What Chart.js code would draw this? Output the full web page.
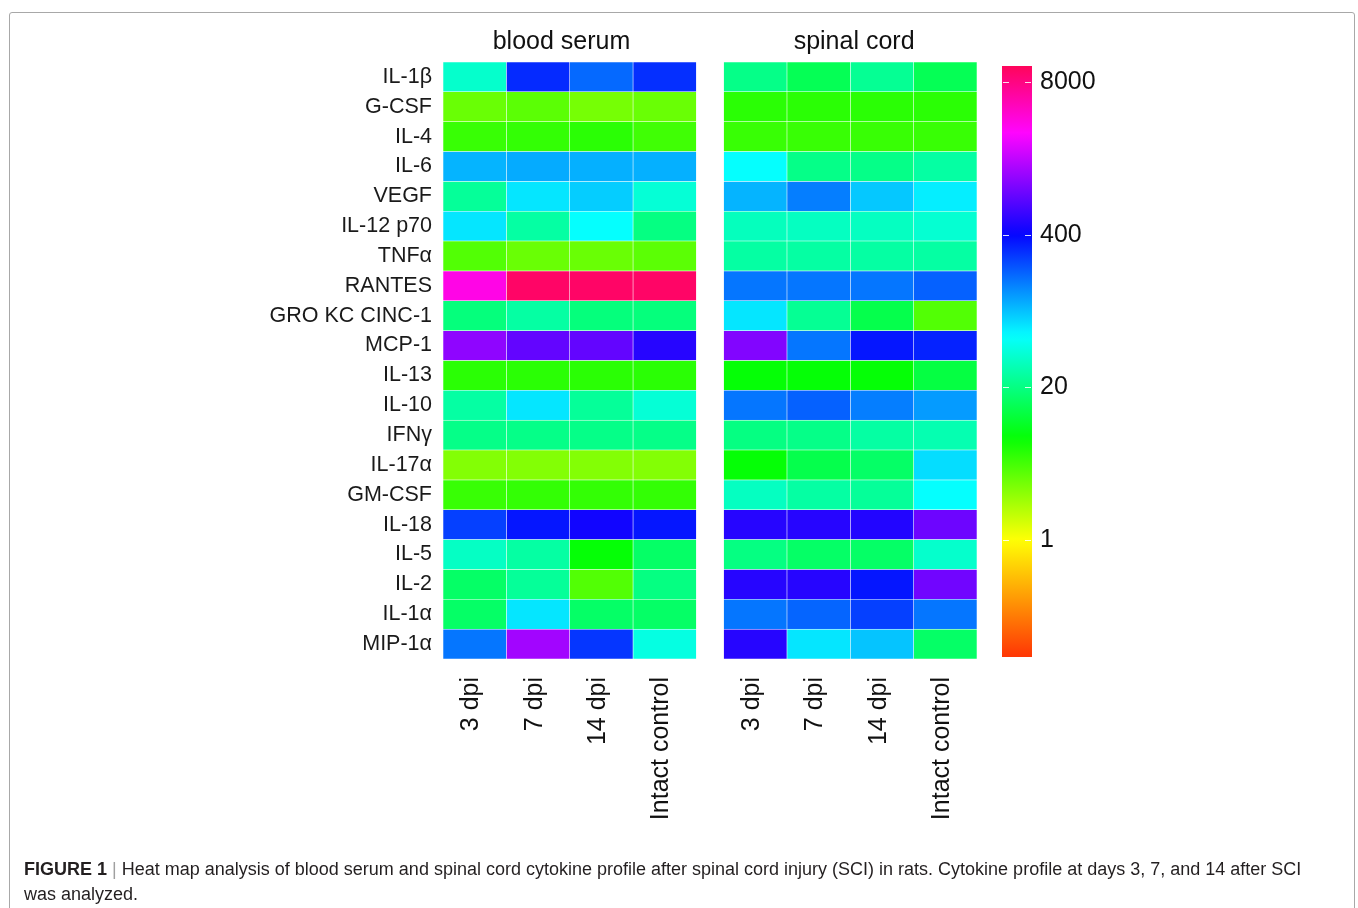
<!DOCTYPE html>
<html>
<head>
<meta charset="utf-8">
<title>Cytokine heat map</title>
<script src="https://cdn.jsdelivr.net/npm/chart.js@4.4.1/dist/chart.umd.min.js"></script>
<style>
  html, body { margin: 0; padding: 0; background: #fff; overflow: hidden; }
  #page { position: relative; width: 1358px; height: 908px; overflow: hidden; font-family: "Liberation Sans", Arial, sans-serif; }
  #frame { position: absolute; left: 9px; top: 12px; width: 1344px; height: 960px; border: 1.5px solid #a8a8a8; border-radius: 3px; }
  #heatmap { position: absolute; left: 0; top: 0; }
  #colorbar { position: absolute; left: 1002px; top: 0; }
  #caption { position: absolute; left: 24px; top: 857px; font-size: 18px; line-height: 25px; color: #231f20; white-space: nowrap; }
  #caption .sep { color: #a0a0a0; }
</style>
</head>
<body>
<div id="page">
  <div id="frame"></div>
  <canvas id="heatmap" width="1358" height="908"></canvas>
  <canvas id="colorbar" width="200" height="700"></canvas>
  <div id="caption"><b>FIGURE 1</b> <span class="sep">|</span> Heat map analysis of blood serum and spinal cord cytokine profile after spinal cord injury (SCI) in rats. Cytokine profile at days 3, 7, and 14 after SCI<br>was analyzed.</div>
</div>
<script>
const cytokines = ['IL-1β', 'G-CSF', 'IL-4', 'IL-6', 'VEGF', 'IL-12 p70', 'TNFα', 'RANTES', 'GRO KC CINC-1', 'MCP-1',
  'IL-13', 'IL-10', 'IFNγ', 'IL-17α', 'GM-CSF', 'IL-18', 'IL-5', 'IL-2', 'IL-1α', 'MIP-1α'];
const columnLabels = ['3 dpi', '7 dpi', '14 dpi', 'Intact control'];
const panelTitles = ['blood serum', 'spinal cord'];
const legendTicks = [1, 20, 400, 8000];
const legendMin = 0.1;
const legendMax = 11000;

// blood serum, one array per column (same order as cytokines)
const serum3dpi   = [36, 3.3, 4.9, 99, 24, 66, 4.0, 3600, 19, 1200, 5.5, 26, 21, 2.7, 4.9, 250, 34, 16, 16, 163];
const serum7dpi   = [297, 3.7, 5.1, 106, 66, 26, 3.3, 10000, 26, 850, 5.5, 66, 21, 2.7, 5.1, 350, 26, 24, 66, 1400];
const serum14dpi  = [180, 3.0, 5.5, 102, 81, 54, 3.3, 10000, 19, 850, 5.5, 24, 21, 2.7, 5.1, 440, 7.4, 4.0, 16, 270];
const serumIntact = [287, 3.3, 4.6, 102, 39, 20, 3.7, 10000, 19, 520, 5.5, 39, 21, 2.7, 5.1, 350, 16, 20, 16, 43];

// spinal cord
const cord3dpi    = [21, 5.5, 4.9, 54, 99, 32, 26, 163, 66, 1090, 7.4, 163, 20, 7.4, 33, 520, 20, 520, 163, 520];
const cord7dpi    = [14, 5.5, 4.9, 21, 152, 33, 26, 163, 23, 163, 7.4, 192, 21, 13, 26, 520, 16, 520, 186, 66];
const cord14dpi   = [23, 5.5, 4.9, 21, 84, 33, 26, 163, 13, 350, 7.4, 152, 26, 16, 24, 505, 16, 350, 250, 87];
const cordIntact  = [14, 5.5, 4.9, 26, 62, 38, 26, 192, 4.0, 317, 12, 121, 29, 71, 54, 920, 36, 950, 163, 16];

const FONT = '"Liberation Sans", Arial, sans-serif';
Chart.defaults.font.family = FONT;
Chart.defaults.color = '#111';

// rainbow palette on a log scale (yellow at 1, green-ish at 20, blue at 400, pink at 8000)
function valueColor(v) {
  const t = Math.log(v) / Math.log(20);
  let hue = t >= 0 ? 60 + 90 * t : 60 + 63 * t;
  hue = Math.max(12, Math.min(340, hue));
  return 'hsl(' + hue.toFixed(1) + ', 100%, 51%)';
}

const GAP = 0.43; // space between the two panels, in column widths
const panels = [
  [serum3dpi, serum7dpi, serum14dpi, serumIntact],
  [cord3dpi, cord7dpi, cord14dpi, cordIntact]
];

const datasets = [];
const colCenters = [];
panels.forEach((cols, p) => {
  cols.forEach((vals, j) => {
    const x0 = p * (4 + GAP) + j;
    colCenters.push(x0 + 0.45);
    datasets.push({
      label: panelTitles[p] + ' ' + columnLabels[j],
      data: vals.map(() => [x0, x0 + 1]),
      backgroundColor: vals.map(valueColor),
      borderColor: 'rgba(255,255,255,0.4)',
      borderWidth: 0.6,
      borderSkipped: false,
      grouped: false,
      barPercentage: 1,
      categoryPercentage: 1
    });
  });
});

new Chart(document.getElementById('heatmap'), {
  type: 'bar',
  data: { labels: cytokines, datasets },
  options: {
    indexAxis: 'y',
    responsive: false,
    animation: false,
    devicePixelRatio: 1,
    layout: { padding: { left: 0, top: 0, right: 381, bottom: 0 } },
    plugins: { legend: { display: false }, tooltip: { enabled: false } },
    scales: {
      y: {
        type: 'category',
        grid: { display: false, drawTicks: false },
        border: { display: false },
        ticks: { padding: 11, font: { size: 21.5 }, color: '#1a1a1a' },
        afterFit: s => { s.width = 443; }
      },
      x: {
        type: 'linear',
        position: 'bottom',
        min: 0,
        max: 8 + GAP,
        grid: { display: false, drawTicks: false },
        border: { display: false },
        afterBuildTicks: s => { s.ticks = colCenters.map(v => ({ value: v })); },
        ticks: {
          autoSkip: false,
          minRotation: 90,
          maxRotation: 90,
          padding: 18,
          font: { size: 25 },
          color: '#111',
          callback: (v, i) => columnLabels[i % 4]
        },
        afterFit: s => { s.height = 908 - 659; }
      },
      x2: {
        type: 'linear',
        position: 'top',
        min: 0,
        max: 8 + GAP,
        grid: { display: false, drawTicks: false },
        border: { display: false },
        afterBuildTicks: s => { s.ticks = [{ value: 1.87 }, { value: 6.49 }]; },
        ticks: {
          autoSkip: false,
          maxRotation: 0,
          padding: 5,
          font: { size: 25 },
          color: '#111',
          callback: (v, i) => panelTitles[i]
        },
        afterFit: s => { s.height = 62; }
      }
    }
  }
});

// white tick marks drawn on both edges of the colour bar
const tickMarks = {
  id: 'tickMarks',
  afterDatasetsDraw(chart) {
    const { ctx, chartArea: a, scales: { y } } = chart;
    ctx.save();
    ctx.strokeStyle = 'rgba(255,255,255,0.85)';
    ctx.lineWidth = 1.2;
    legendTicks.forEach(v => {
      const py = Math.round(y.getPixelForValue(v)) + 0.5;
      ctx.beginPath();
      ctx.moveTo(a.left + 1, py); ctx.lineTo(a.left + 7, py);
      ctx.moveTo(a.right - 7, py); ctx.lineTo(a.right - 1, py);
      ctx.stroke();
    });
    ctx.restore();
  }
};

new Chart(document.getElementById('colorbar'), {
  type: 'bar',
  data: {
    labels: ['scale'],
    datasets: [{
      data: [[legendMin, legendMax]],
      backgroundColor: c => {
        const chart = c.chart;
        const area = chart.chartArea;
        if (!area) return 'transparent';
        const y = chart.scales.y;
        const g = chart.ctx.createLinearGradient(0, area.bottom, 0, area.top);
        for (let k = 0; k <= 80; k++) {
          const v = legendMin * Math.pow(legendMax / legendMin, k / 80);
          const off = (area.bottom - y.getPixelForValue(v)) / (area.bottom - area.top);
          g.addColorStop(Math.min(1, Math.max(0, off)), valueColor(v));
        }
        return g;
      },
      borderWidth: 0,
      barPercentage: 1,
      categoryPercentage: 1
    }]
  },
  options: {
    responsive: false,
    animation: false,
    devicePixelRatio: 1,
    layout: { padding: { left: 0, top: 66, right: 0, bottom: 43 } },
    plugins: { legend: { display: false }, tooltip: { enabled: false } },
    scales: {
      x: { display: false },
      y: {
        type: 'logarithmic',
        position: 'right',
        min: legendMin,
        max: legendMax,
        grid: { display: false, drawTicks: false },
        border: { display: false },
        afterBuildTicks: s => { s.ticks = legendTicks.map(v => ({ value: v })); },
        ticks: { padding: 8, font: { size: 25 }, color: '#111', callback: v => String(v) },
        afterFit: s => { s.width = 170; }
      }
    }
  },
  plugins: [tickMarks]
});
</script>
</body>
</html>
